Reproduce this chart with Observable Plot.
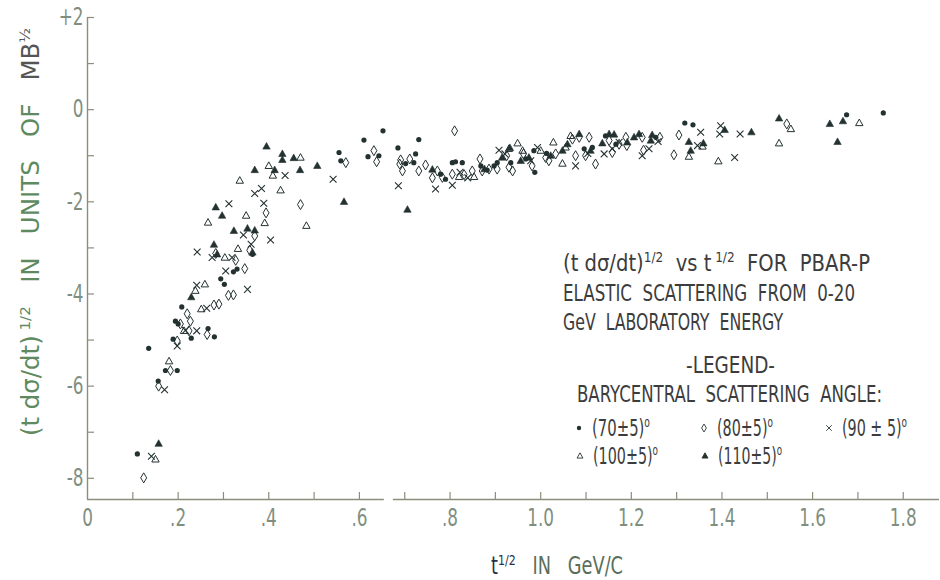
<!DOCTYPE html>
<html><head><meta charset="utf-8">
<script src="https://cdn.jsdelivr.net/npm/d3@7"></script>
<script src="https://cdn.jsdelivr.net/npm/@observablehq/plot@0.6"></script>
<style>
html,body{margin:0;padding:0;background:#fff;}
#chart{width:940px;height:580px;}
svg{display:block}
</style></head><body><div id="chart"></div>
<script>
// ---- data: (t dσ/dt)^1/2 vs t^1/2, by barycentral scattering angle ----
const x70 = [0.110,0.135,0.156,0.172,0.198,0.208,0.194,0.200,0.189,0.229,0.266,0.280,0.294,0.302,0.322,0.330,0.364,0.555,0.559,0.610,0.652,0.619,0.643,0.685,0.731,0.702,0.720,0.724,0.779,0.790,0.805,0.812,0.827,0.868,0.882,0.897,0.904,0.934,0.967,0.987,0.985,1.013,1.096,1.114,1.143,1.166,1.254,1.318,1.336,1.675,1.756];
const y70 = [-7.47,-5.18,-5.89,-5.66,-5.66,-4.28,-4.59,-4.65,-4.98,-4.96,-4.75,-4.93,-3.67,-3.79,-3.52,-3.46,-3.14,-0.93,-1.11,-0.66,-0.46,-1.02,-1.00,-0.83,-0.65,-1.17,-1.15,-0.96,-1.40,-1.51,-1.15,-1.13,-1.15,-1.22,-1.31,-1.22,-1.15,-1.15,-1.07,-1.36,-0.89,-0.95,-0.85,-0.82,-0.57,-0.75,-0.60,-0.29,-0.33,-0.11,-0.07];

const x80 = [0.124,0.183,0.157,0.198,0.220,0.227,0.205,0.224,0.264,0.290,0.279,0.311,0.322,0.347,0.327,0.358,0.369,0.394,0.470,0.570,0.632,0.638,0.689,0.283,0.691,0.695,0.711,0.731,0.746,0.761,0.772,0.783,0.805,0.810,0.831,0.849,0.866,0.871,0.886,0.904,0.925,0.930,0.938,0.962,0.981,1.011,1.018,1.033,1.070,1.077,1.085,1.107,1.099,1.121,1.151,1.158,1.173,1.188,1.190,1.224,1.227,1.263,1.305,1.294,1.543];
const y80 = [-7.99,-5.66,-6.00,-5.02,-4.43,-4.59,-4.65,-4.80,-4.88,-4.22,-4.24,-4.03,-4.02,-3.45,-3.27,-3.05,-2.74,-2.24,-2.06,-1.15,-0.89,-1.13,-1.18,-3.12,-1.09,-1.33,-1.07,-1.33,-1.20,-1.48,-1.33,-1.47,-1.40,-0.46,-1.41,-1.33,-1.07,-1.33,-1.29,-1.29,-1.00,-1.25,-1.33,-0.96,-1.22,-1.04,-1.11,-0.96,-0.64,-1.00,-0.60,-0.60,-1.00,-1.18,-0.67,-0.93,-0.75,-0.60,-0.78,-0.60,-0.88,-0.60,-0.55,-0.98,-0.31];

const x90 = [0.141,0.170,0.198,0.216,0.241,0.263,0.242,0.241,0.275,0.305,0.319,0.353,0.344,0.361,0.312,0.369,0.384,0.389,0.404,0.436,0.542,0.686,0.768,0.805,0.822,0.839,0.908,0.921,0.978,0.993,1.077,1.104,1.140,1.158,1.173,1.224,1.239,1.259,1.353,1.346,1.397,1.395,1.440,1.428];
const y90 = [-7.52,-6.08,-5.13,-4.79,-4.80,-4.31,-3.09,-3.81,-3.21,-3.50,-3.21,-3.90,-2.72,-2.92,-2.04,-1.82,-1.71,-2.03,-2.83,-1.43,-1.51,-1.65,-1.72,-1.64,-1.36,-1.48,-0.88,-0.96,-1.11,-0.82,-1.22,-0.95,-0.96,-0.85,-0.71,-1.00,-0.85,-0.69,-0.49,-0.78,-0.35,-0.53,-0.53,-1.04];

const x100 = [0.150,0.180,0.213,0.251,0.259,0.238,0.266,0.303,0.332,0.350,0.336,0.391,0.400,0.409,0.426,0.470,0.483,0.820,0.853,0.949,0.930,0.960,1.000,1.028,1.048,1.055,1.066,1.327,1.357,1.392,1.526,1.552,1.703];
const y100 = [-7.59,-5.46,-4.80,-4.33,-3.79,-3.93,-2.45,-3.21,-3.02,-2.30,-1.54,-2.46,-1.22,-1.43,-1.75,-1.04,-2.52,-1.46,-1.46,-0.73,-0.85,-0.89,-0.89,-0.71,-1.17,-0.82,-0.57,-1.02,-0.80,-1.12,-0.73,-0.42,-0.29];

const x110 = [0.157,0.229,0.279,0.283,0.297,0.323,0.353,0.369,0.364,0.395,0.369,0.413,0.430,0.430,0.455,0.469,0.507,0.566,0.286,0.706,0.761,0.876,0.915,0.932,0.956,0.974,1.022,1.048,1.059,1.085,1.110,1.136,1.151,1.162,1.191,1.206,1.217,1.243,1.246,1.327,1.331,1.359,1.406,1.465,1.526,1.638,1.667,1.655];
const y110 = [-7.25,-4.07,-2.93,-2.12,-2.30,-2.63,-2.58,-2.62,-3.10,-0.80,-1.31,-1.31,-0.96,-1.09,-1.05,-1.31,-1.22,-2.00,-3.14,-2.17,-1.30,-1.29,-1.04,-0.83,-1.11,-1.04,-1.00,-0.89,-0.75,-0.53,-0.89,-0.73,-0.53,-0.54,-0.71,-0.60,-0.53,-0.67,-0.55,-0.70,-0.89,-0.73,-0.44,-0.49,-0.19,-0.31,-0.25,-0.70];

const legendLabels = ["(70±5)", "(80±5)", "(90 ± 5)", "(100±5)", "(110±5)"];
const xTicks = [0, 0.2, 0.4, 0.6, 0.8, 1.0, 1.2, 1.4, 1.6, 1.8];
const xTickLabels = ["0", ".2", ".4", ".6", ".8", "1.0", "1.2", "1.4", "1.6", "1.8"];
const xMinorTicks = [0.1,0.2,0.3,0.4,0.5,0.6,0.7,0.8,0.9,1.0,1.1,1.2,1.3,1.4,1.5,1.6,1.7,1.8];
const yTicks = [-8, -6, -4, -2, 0, 2];
const yTickLabels = ["-8", "-6", "-4", "-2", "0", "+2"];
const yMinorTicks = [-8,-7,-6,-5,-4,-3,-2,-1,0,1,2];

// ---- styling ----
const FONT = "'Liberation Sans Narrow', 'DejaVu Sans Condensed', 'Liberation Sans', sans-serif";
const ink = "#243131";
const axisCol = "#8d8d7c";
const tickLabCol = "#7f8f7f";
const textCol = "#3c3c3c";
const yMin = -8.46, yMax = 2, xMin = 0, xMax = 1.88;

const symDiamond = {draw(c){ c.moveTo(0,-5); c.lineTo(3,0); c.lineTo(0,5); c.lineTo(-3,0); c.closePath(); }};
const symCross = {draw(c){ c.moveTo(-3.4,-3.4); c.lineTo(3.4,3.4); c.moveTo(3.4,-3.4); c.lineTo(-3.4,3.4); }};
const symTri = {draw(c){ c.moveTo(0,-4); c.lineTo(3.7,2.6); c.lineTo(-3.7,2.6); c.closePath(); }};

const rows = (xs, ys) => xs.map((x, i) => ({x, y: ys[i]}));

const plot = Plot.plot({
  width: 940, height: 580,
  marginLeft: 87, marginRight: 1, marginTop: 17, marginBottom: 81,
  x: {domain: [xMin, xMax]},
  y: {domain: [yMin, yMax]},
  style: {fontFamily: FONT, background: "white"},
  marks: [
    Plot.ruleX([0], {y1: yMin, y2: yMax, stroke: axisCol, strokeWidth: 1.4}),
    Plot.ruleY([yMin], {x1: 0, x2: 0.655, stroke: axisCol, strokeWidth: 1.4}),
    Plot.ruleY([yMin], {x1: 0.675, x2: xMax, stroke: axisCol, strokeWidth: 1.4}),
    Plot.axisX({ticks: xMinorTicks, tickSize: -7, tickFormat: () => "", stroke: axisCol, strokeWidth: 1.2, label: null}),
    Plot.axisY({ticks: yMinorTicks, tickSize: -7, tickFormat: () => "", stroke: axisCol, strokeWidth: 1.2, label: null}),
    Plot.axisX({ticks: xTicks, tickSize: 0, tickPadding: 9, fontSize: 24, fill: tickLabCol,
      tickFormat: d => xTickLabels[xTicks.findIndex(t => Math.abs(t - d) < 1e-9)], label: null}),
    Plot.axisY({ticks: yTicks, tickSize: 0, tickPadding: 4, fontSize: 24, fill: tickLabCol,
      tickFormat: d => yTickLabels[yTicks.indexOf(d)], label: null}),
    Plot.dot(rows(x70, y70), {x: "x", y: "y", r: 2.6, fill: ink, stroke: "none"}),
    Plot.dot(rows(x80, y80), {x: "x", y: "y", symbol: symDiamond, fill: "none", stroke: ink, strokeWidth: 1}),
    Plot.dot(rows(x90, y90), {x: "x", y: "y", symbol: symCross, fill: "none", stroke: ink, strokeWidth: 1.1}),
    Plot.dot(rows(x100, y100), {x: "x", y: "y", symbol: symTri, fill: "none", stroke: ink, strokeWidth: 1}),
    Plot.dot(rows(x110, y110), {x: "x", y: "y", symbol: symTri, fill: ink, stroke: ink, strokeWidth: 0.6})
  ]
});
document.getElementById("chart").append(plot);

const svg = d3.select(plot);
// condense tick labels like the original narrow lettering
svg.selectAll("g[aria-label='x-axis tick label'] text, g[aria-label='y-axis tick label'] text").each(function() {
  const w = this.getComputedTextLength();
  if (w > 0) d3.select(this).attr("textLength", w * 0.78).attr("lengthAdjust", "spacingAndGlyphs");
});

function addText(g, x, y, parts, size, len, opts = {}) {
  const t = g.append("text").attr("x", x).attr("y", y).attr("font-size", size)
    .attr("text-anchor", "start").style("white-space", "pre").attr("font-family", FONT);
  if (opts.transform) t.attr("transform", opts.transform);
  if (opts.fill) t.attr("fill", opts.fill);
  for (const p of parts) {
    const s = t.append("tspan").text(p.t);
    if (p.sup) s.attr("font-size", size * 0.62).attr("baseline-shift", "62%");
    if (p.fill) s.attr("fill", p.fill);
  }
  if (len) t.attr("textLength", len).attr("lengthAdjust", "spacingAndGlyphs");
  return t;
}

const ann = svg.append("g").attr("fill", textCol).attr("text-anchor", "start");
const fs = 23;
addText(ann, 563, 271, [{t: "(t d\u03c3/dt)"}, {t: "1/2", sup: true}, {t: "  vs t"}, {t: " 1/2", sup: true}, {t: "  FOR  PBAR-P"}], fs, 307);
addText(ann, 563, 301, [{t: "ELASTIC  SCATTERING  FROM  0-20"}], fs, 292);
addText(ann, 563, 330, [{t: "GeV  LABORATORY  ENERGY"}], fs, 220);
addText(ann, 686, 373, [{t: "-LEGEND-"}], fs, 89);
addText(ann, 577, 402, [{t: "BARYCENTRAL  SCATTERING  ANGLE:"}], fs, 305);

// legend entries
const legX = [592, 717, 842, 593, 718];
const legY = [436, 436, 436, 464, 464];
const legLen = [58, 56, 65, 65, 64];
const legSym = [null, symDiamond, symCross, symTri, symTri];
legendLabels.forEach((lab, i) => {
  addText(ann, legX[i], legY[i], [{t: lab}, {t: "o", sup: true}], fs, legLen[i]);
  const cx = legX[i] - 13, cy = legY[i] - 8;
  if (i === 0) {
    ann.append("circle").attr("cx", cx).attr("cy", cy).attr("r", 2.2).attr("fill", ink);
  } else {
    const path = d3.path(); legSym[i].draw(path);
    ann.append("path").attr("d", path.toString())
      .attr("transform", `translate(${cx},${cy}) scale(0.8)`)
      .attr("fill", i === 4 ? ink : "none").attr("stroke", ink).attr("stroke-width", 1.1);
  }
});

// axis titles
addText(svg, 0, 0, [{t: "(t d\u03c3/dt)", fill: "#5f8a5f"}, {t: " 1/2", sup: true, fill: "#5f8a5f"},
  {t: "   IN   UNITS   OF   ", fill: "#5f8a5f"}, {t: "MB", fill: "#555"}, {t: "\u00bd", sup: true, fill: "#555"}],
  24, 408, {transform: "translate(39,436) rotate(-90)"});
addText(svg, 491, 574, [{t: "t", fill: "#2a2f45"}, {t: "1/2", sup: true, fill: "#2a2f45"}, {t: "   IN   GeV/C", fill: "#5a6e5a"}], 24, 132);
</script></body></html>
